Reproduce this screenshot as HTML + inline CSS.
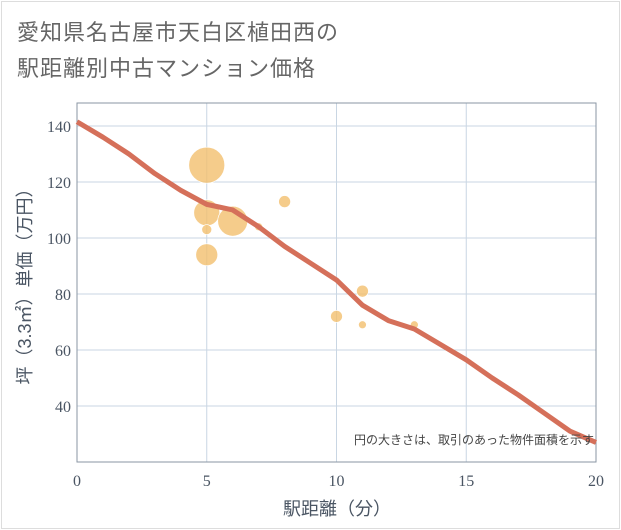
<!DOCTYPE html>
<html><head><meta charset="utf-8"><style>
body{margin:0;background:#fff;font-family:"Liberation Sans","Noto Sans CJK JP",sans-serif;}
#card{position:absolute;left:1px;top:1px;width:617px;height:526px;border:1px solid #ddd;background:#fff;}
.t{position:absolute;left:17px;font-size:22px;color:#666;letter-spacing:1px;}
</style></head><body>
<div id="card"></div>
<div class="t" style="top:15px">愛知県名古屋市天白区植田西の</div>
<div class="t" style="top:51px">駅距離別中古マンション価格</div>
<svg id="s" width="621" height="530" style="position:absolute;left:0;top:0"></svg>
<script>
const xTicks=[0,5,10,15,20];
const yTicks=[40,60,80,100,120,140];
const lineX=[0,1,2,3,4,5,6,7,8,9,10,11,12,13,14,15,16,17,18,19,20];
const lineY=[141.5,136,130,123,117,112,110,104,97,91,85,76,70.5,67.5,62,56.5,50,44,37.5,31,27];
const bubX=[5,5,6,5,5,8,10,11,11,13,7];
const bubY=[126,109,106,103,94,113,72,81,69,69,104];
const bubR=[18,13,15,5,11,6,6,6,4,4,4];
const L=77,R=596,T=103,B=462,ymin=20,ymax=148.2;
const sx=v=>L+(v-0)/20*(R-L), sy=v=>B-(v-ymin)/(ymax-ymin)*(B-T);
const s=document.getElementById('s');const NS='http://www.w3.org/2000/svg';
function mk(t,a,p){const e=document.createElementNS(NS,t);for(const k in a)e.setAttribute(k,a[k]);(p||s).appendChild(e);return e;}
xTicks.forEach(v=>{const g=mk('line',{x1:sx(v),x2:sx(v),y1:T,y2:B,stroke:'#c9d6e3','stroke-width':1});


const t=mk('text',{x:sx(v),y:486,'text-anchor':'middle','font-size':16,fill:'#4a5563','font-family':'Liberation Serif, serif'});t.textContent=v;

});
yTicks.forEach(v=>{const g=mk('line',{x1:L,x2:R,y1:sy(v),y2:sy(v),stroke:'#c9d6e3','stroke-width':1});


const t=mk('text',{x:71,y:sy(v)+6,'text-anchor':'end','font-size':16,fill:'#4a5563','font-family':'Liberation Serif, serif'});t.textContent=v;

});
const fr=mk('rect',{x:L,y:T,width:R-L,height:B-T,fill:'none',stroke:'#8a96a3','stroke-width':1});


bubX.forEach((x,i)=>{const c=mk('circle',{cx:sx(x),cy:sy(bubY[i]),r:bubR[i],fill:'#f2bf6e','fill-opacity':0.8,stroke:'#fff','stroke-width':0.7});

});
const p=mk('polyline',{points:lineX.map((x,i)=>sx(x)+','+sy(lineY[i])).join(' '),fill:'none',stroke:'#d5705a','stroke-width':5,'stroke-linejoin':'round'});


const n=mk('text',{x:594,y:444,'text-anchor':'end','font-size':12,fill:'#444'});n.textContent='円の大きさは、取引のあった物件面積を示す';


const xt=mk('text',{x:337,y:515,'text-anchor':'middle','font-size':18,fill:'#4a5563'});xt.textContent='駅距離（分）';


const yt=mk('text',{x:0,y:0,'text-anchor':'middle','font-size':18,fill:'#4a5563',transform:'translate(31,282) rotate(-90)'});yt.textContent='坪（3.3㎡）単価（万円）';


</script>
</body></html>
